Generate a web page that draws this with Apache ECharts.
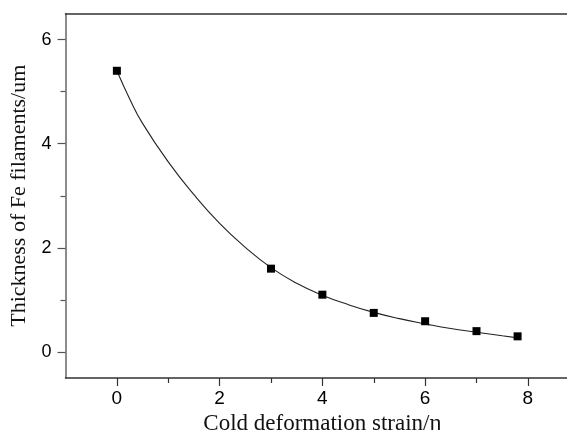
<!DOCTYPE html>
<html>
<head>
<meta charset="utf-8">
<script src="https://cdn.jsdelivr.net/npm/echarts@6/dist/echarts.min.js"></script>
<style>
  html, body { margin: 0; padding: 0; background: #fff; }
  #chart { width: 567px; height: 430px; }
</style>
</head>
<body>
<div id="chart"></div>
<script>
// Measured thickness of Fe filaments versus cold deformation strain
const strain = [0, 3, 4, 5, 6, 7, 7.8];
const thickness = [5.4, 1.6, 1.1, 0.75, 0.59, 0.40, 0.30];

// Points along the fitted decay curve
const fitStrain = [0, 0.25, 0.5, 1.0, 1.5, 2.0, 2.5, 3.0, 3.5, 4.0, 4.5, 5.0, 5.5, 6.0, 6.5, 7.0, 7.5, 7.8];
const fitThickness = [5.40, 4.86, 4.39, 3.65, 3.02, 2.47, 2.01, 1.62, 1.32, 1.09, 0.91, 0.76, 0.64, 0.54, 0.45, 0.38, 0.31, 0.27];

// Axis tick positions
const xMajorTicks = [0, 2, 4, 6, 8];
const xMinorTicks = [1, 3, 5, 7];
const yMajorTicks = [0, 2, 4, 6];
const yMinorTicks = [1, 3, 5];

const xTitle = 'Cold deformation strain/\u03b7';
const yTitle = 'Thickness of Fe filaments/um';

const sans = '"Liberation Sans", Arial, sans-serif';
const serif = '"Liberation Serif", "Times New Roman", serif';

const chart = echarts.init(document.getElementById('chart'), null, { renderer: 'canvas' });

const xRange = { min: -1, max: 9 };
const yRange = { min: -0.5, max: 6.5 };

chart.setOption({
  animation: false,
  backgroundColor: '#fff',
  grid: {
    left: 65.5, top: 13.5, width: 513.75, height: 364.5,
    containLabel: false, outerBoundsMode: 'none'
  },
  xAxis: [
    {
      type: 'value', position: 'bottom', ...xRange,
      name: xTitle, nameLocation: 'middle', nameGap: 27,
      nameTextStyle: { fontFamily: serif, fontSize: 23, color: '#111' },
      axisLine: { show: true, onZero: false, lineStyle: { color: '#333', width: 1.5 } },
      axisTick: { show: true, inside: false, length: 8, customValues: xMajorTicks, lineStyle: { color: '#333', width: 1.2 } },
      axisLabel: { show: true, margin: 11, customValues: xMajorTicks, fontFamily: sans, fontSize: 19, color: '#000' },
      splitLine: { show: false }
    },
    {
      type: 'value', position: 'bottom', ...xRange,
      axisLine: { show: false, onZero: false },
      axisTick: { show: true, inside: false, length: 5, customValues: xMinorTicks, lineStyle: { color: '#333', width: 1.2 } },
      axisLabel: { show: false, customValues: xMinorTicks },
      splitLine: { show: false }
    },
    {
      type: 'value', position: 'top', ...xRange,
      axisLine: { show: true, onZero: false, lineStyle: { color: '#333', width: 1.5 } },
      axisTick: { show: false },
      axisLabel: { show: false },
      splitLine: { show: false }
    }
  ],
  yAxis: [
    {
      type: 'value', position: 'left', ...yRange,
      name: yTitle, nameLocation: 'middle', nameGap: 30, nameRotate: 90,
      nameTextStyle: { fontFamily: serif, fontSize: 22, color: '#111' },
      axisLine: { show: true, onZero: false, lineStyle: { color: '#666', width: 1.5 } },
      axisTick: { show: true, inside: false, length: 8, customValues: yMajorTicks, lineStyle: { color: '#555', width: 1.2 } },
      axisLabel: { show: true, margin: 14, customValues: yMajorTicks, fontFamily: sans, fontSize: 18, color: '#000' },
      splitLine: { show: false }
    },
    {
      type: 'value', position: 'left', ...yRange,
      axisLine: { show: false, onZero: false },
      axisTick: { show: true, inside: false, length: 5, customValues: yMinorTicks, lineStyle: { color: '#555', width: 1.2 } },
      axisLabel: { show: false, customValues: yMinorTicks },
      splitLine: { show: false }
    }
  ],
  series: [
    {
      name: 'fit',
      type: 'line',
      xAxisIndex: 0, yAxisIndex: 0,
      data: fitStrain.map((x, i) => [x, fitThickness[i]]),
      smooth: 0.5,
      showSymbol: false,
      symbol: 'none',
      lineStyle: { color: '#222', width: 1.1 },
      z: 2
    },
    {
      name: 'measured',
      type: 'scatter',
      xAxisIndex: 0, yAxisIndex: 0,
      data: strain.map((x, i) => [x, thickness[i]]),
      symbol: 'rect',
      symbolSize: 8,
      itemStyle: { color: '#000', opacity: 1 },
      z: 3
    }
  ]
});
</script>
</body>
</html>
